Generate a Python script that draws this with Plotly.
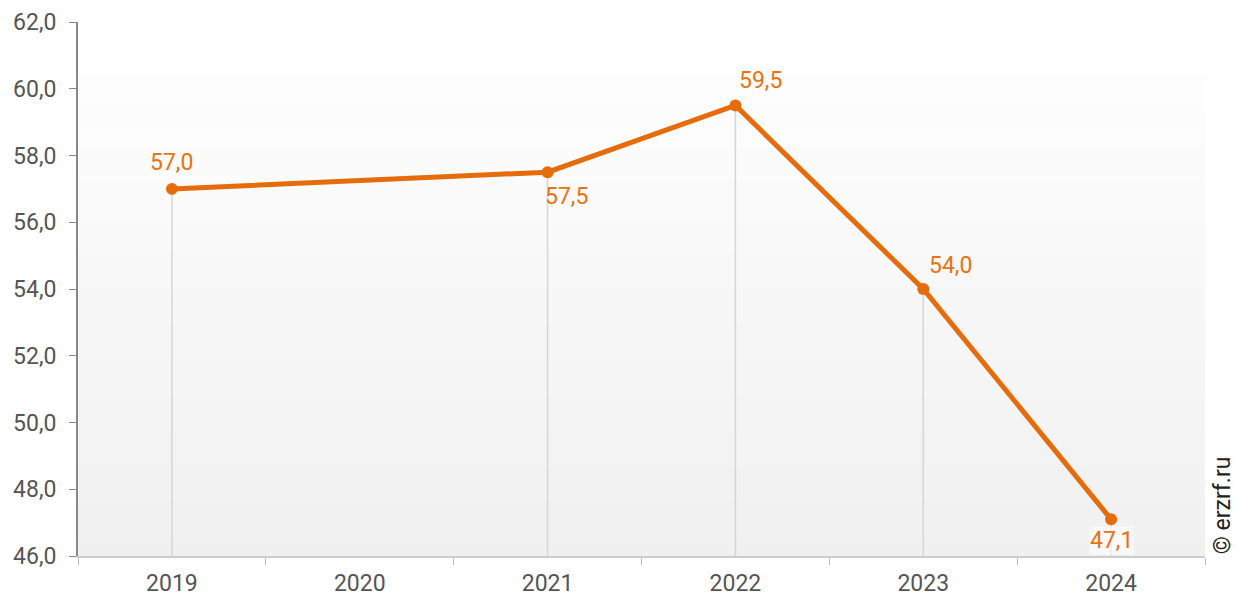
import plotly.graph_objects as go

years = ["2019", "2020", "2021", "2022", "2023", "2024"]
values = [57.0, None, 57.5, 59.5, 54.0, 47.1]
label_dx = [0, 0, 19, 25, 27, 0]
label_dy = [26, 0, -24, 25, 24, -21]
y_ticks = [46, 48, 50, 52, 54, 56, 58, 60, 62]
y_min, y_max = 46, 62

ORANGE = "#e66c0a"
LABEL = "#e8730f"

fig = go.Figure()

# background gradient
n = 60
top = (255, 255, 255)
bot = (240, 240, 240)
for i in range(n):
    t = (i + 0.5) / n
    c = tuple(round(top[k] + (bot[k] - top[k]) * t) for k in range(3))
    fig.add_shape(type="rect", xref="paper", yref="paper",
                  x0=0, x1=1, y0=1 - (i + 1) / n, y1=1 - i / n + 0.001,
                  fillcolor="rgb(%d,%d,%d)" % c, line_width=0, layer="below")

px = [x for x, v in zip(years, values) if v is not None]
py = [v for v in values if v is not None]

# drop lines
fig.add_trace(go.Scatter(
    x=px, y=py, mode="markers", marker=dict(size=0.1, color="rgba(0,0,0,0)"),
    error_y=dict(type="data", symmetric=False, array=[0] * len(py),
                 arrayminus=[v - y_min for v in py], color="#d6d6d6",
                 thickness=1.5, width=0),
    hoverinfo="skip", showlegend=False))

fig.add_trace(go.Scatter(
    x=years, y=values, mode="lines+markers", connectgaps=True,
    line=dict(color=ORANGE, width=5),
    marker=dict(color=ORANGE, size=12),
    showlegend=False))

for i, (v, dx, dy) in enumerate(zip(values, label_dx, label_dy)):
    if v is None:
        continue
    fig.add_annotation(x=i, y=v, text=f"{v:.1f}".replace(".", ","),
                       showarrow=False, xshift=dx, yshift=dy,
                       font=dict(family="Roboto", size=23, color=LABEL),
                       borderpad=0,
                       bgcolor="rgba(255,255,255,0.6)" if dy < 0 and dx == 0 else None)

fig.add_annotation(xref="paper", yref="paper", x=1.0, xshift=17, y=0.095,
                   xanchor="center", yanchor="middle",
                   text="© erzrf.ru", showarrow=False, textangle=-90,
                   font=dict(family="Roboto", size=23, color="#222"))

fig.update_layout(
    width=1248, height=601,
    margin=dict(l=78, r=43, t=22, b=45),
    paper_bgcolor="white", plot_bgcolor="rgba(0,0,0,0)",
    separators=", ",
    font=dict(family="Roboto", color="#555"),
    xaxis=dict(type="category", categoryorder="array", categoryarray=years,
               range=[-0.5, len(years) - 0.5], automargin=False,
               tickson="boundaries", ticks="outside", ticklen=7, tickcolor="#bbb",
               ticklabelstandoff=5,
               showgrid=False, showline=True, linecolor="#ccc", linewidth=2,
               tickfont=dict(size=23, color="#555"), zeroline=False),
    yaxis=dict(range=[y_min, y_max], tickvals=y_ticks, tickformat=".1f",
               automargin=False,
               ticks="outside", ticklen=7, tickcolor="#888",
               ticklabelstandoff=8,
               showgrid=False, showline=True, linecolor="#888", linewidth=2,
               tickfont=dict(size=23, color="#555"), zeroline=False),
)

fig.write_html("out.html")
